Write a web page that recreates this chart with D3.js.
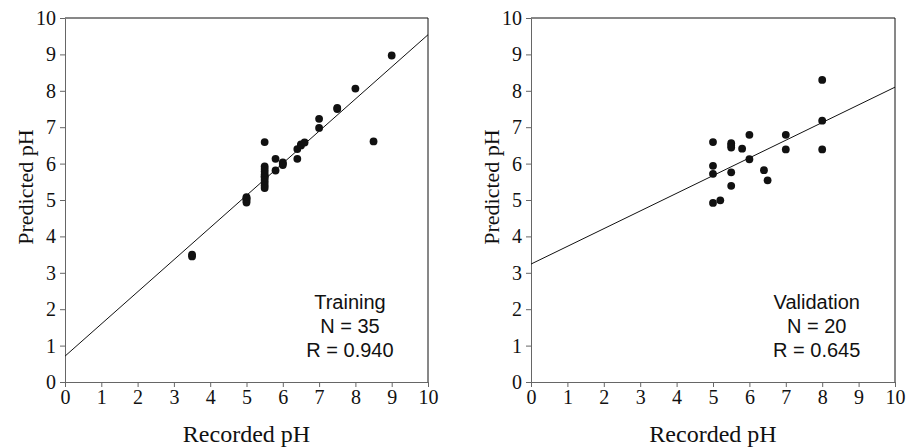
<!DOCTYPE html>
<html>
<head>
<meta charset="utf-8">
<script src="https://cdn.jsdelivr.net/npm/d3@7"></script>
<style>
  body { margin: 0; background: #fff; }
  .tick text { font-family: "Liberation Serif", "Times New Roman", serif; font-size: 20px; fill: #111; }
  .axis path, .axis line { stroke: #666; }
</style>
</head>
<body>
<div id="chart"></div>
<script>
// training set (recorded pH, predicted pH)
var trainRecorded = [3.5, 3.5,
    5.0, 5.0, 5.0, 5.0, 5.0,
    5.5, 5.5, 5.5, 5.5, 5.5, 5.5, 5.5, 5.5, 5.5, 5.5, 5.5,
    5.8, 5.8, 6.0, 6.0, 6.0, 6.4, 6.4, 6.5, 6.5, 6.6,
    7.0, 7.0, 7.5, 7.5, 8.0, 8.5, 9.0];
var trainPredicted = [3.45, 3.5,
    4.93, 4.98, 5.03, 5.05, 5.08,
    6.59, 5.92, 5.85, 5.78, 5.70, 5.65, 5.62, 5.55, 5.48, 5.40, 5.33,
    6.13, 5.81, 6.03, 6.0, 5.96, 6.13, 6.40, 6.50, 6.53, 6.58,
    7.23, 6.98, 7.50, 7.53, 8.06, 6.61, 8.97];

// validation set
var validRecorded = [5.0, 5.0, 5.0, 5.0, 5.2,
    5.5, 5.5, 5.5, 5.5, 5.5, 5.8,
    6.0, 6.0, 6.4, 6.5, 7.0, 7.0, 8.0, 8.0, 8.0];
var validPredicted = [6.59, 5.94, 5.72, 4.92, 4.99,
    6.56, 6.5, 6.44, 5.76, 5.39, 6.41,
    6.79, 6.12, 5.82, 5.54, 6.79, 6.39, 8.30, 7.18, 6.39];

// fitted lines: [intercept, slope]
var trainFit = [0.71, 0.883];
var validFit = [3.24, 0.486];

var panelLabels = [["Training", "N = 35", "R = 0.940"], ["Validation", "N = 20", "R = 0.645"]];
var tickValues = [0, 1, 2, 3, 4, 5, 6, 7, 8, 9, 10];
var xTitle = "Recorded pH";
var yTitle = "Predicted pH";

var W = 908, H = 447;
var svg = d3.select("#chart").append("svg")
    .attr("width", W)
    .attr("height", H);

var plotTop = 18, plotBottom = 382;

function drawPanel(left, right, rec, pred, fit, labels) {
    var xScale = d3.scaleLinear().domain([0, 10]).range([left, right]);
    var yScale = d3.scaleLinear().domain([0, 10]).range([plotBottom, plotTop]);

    var xAxis = d3.axisBottom(xScale).tickValues(tickValues).tickSize(5).tickSizeOuter(0).tickPadding(3);
    var yAxis = d3.axisLeft(yScale).tickValues(tickValues).tickSize(5).tickSizeOuter(0).tickPadding(4);

    // frame top/right
    svg.append("line")
        .attr("x1", left).attr("y1", plotTop).attr("x2", right).attr("y2", plotTop)
        .attr("stroke", "#111");
    svg.append("line")
        .attr("x1", right).attr("y1", plotTop).attr("x2", right).attr("y2", plotBottom)
        .attr("stroke", "#111");

    svg.append("g")
        .attr("class", "axis")
        .attr("transform", `translate(0,${plotBottom})`)
        .call(xAxis);
    svg.append("g")
        .attr("class", "axis")
        .attr("transform", `translate(${left},0)`)
        .call(yAxis);

    // regression line
    svg.append("line")
        .attr("x1", xScale(0)).attr("y1", yScale(fit[0]))
        .attr("x2", xScale(10)).attr("y2", yScale(fit[0] + fit[1] * 10))
        .attr("stroke", "#111")
        .attr("stroke-width", 1);

    var pts = rec.map(function(d, i) { return {x: d, y: pred[i]}; });
    svg.selectAll(null)
        .data(pts)
        .enter()
        .append("circle")
        .attr("cx", function(d) { return xScale(d.x); })
        .attr("cy", function(d) { return yScale(d.y); })
        .attr("r", 3.9)
        .attr("fill", "#111");

    // annotation
    var cx = xScale(7.85);
    svg.append("g").selectAll("text")
        .data(labels)
        .enter()
        .append("text")
        .attr("x", cx)
        .attr("y", function(d, i) { return 309 + i * 24; })
        .attr("text-anchor", "middle")
        .attr("font-family", "'Liberation Sans', Arial, sans-serif")
        .attr("font-size", "20px")
        .attr("fill", "#111")
        .text(function(d) { return d; });

    // titles
    svg.append("text")
        .attr("x", (left + right) / 2)
        .attr("y", 442)
        .attr("text-anchor", "middle")
        .attr("font-family", "'Liberation Serif', 'Times New Roman', serif")
        .attr("font-size", "24px")
        .attr("fill", "#111")
        .text(xTitle);
    svg.append("text")
        .attr("transform", `translate(${left - 32},${187}) rotate(-90)`)
        .attr("text-anchor", "middle")
        .attr("font-family", "'Liberation Serif', 'Times New Roman', serif")
        .attr("font-size", "22px")
        .attr("fill", "#111")
        .text(yTitle);
}

drawPanel(65, 428, trainRecorded, trainPredicted, trainFit, panelLabels[0]);
drawPanel(531, 895, validRecorded, validPredicted, validFit, panelLabels[1]);
</script>
</body>
</html>
